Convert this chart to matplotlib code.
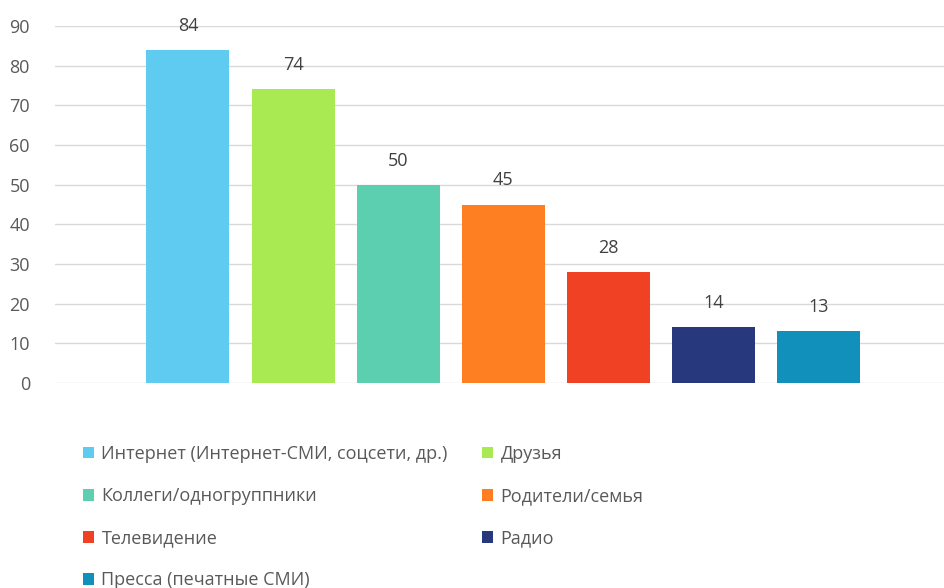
import matplotlib
matplotlib.use("Agg")
import matplotlib.pyplot as plt
from matplotlib.patches import Patch

plt.rcParams['font.family'] = ['Open Sans', 'DejaVu Sans']

categories = ["Интернет (Интернет-СМИ, соцсети, др.)", "Друзья",
              "Коллеги/одногруппники", "Родители/семья",
              "Телевидение", "Радио", "Пресса (печатные СМИ)"]
values = [84, 74, 50, 45, 28, 14, 13]
colors = ["#5fcbf1", "#a9e952", "#5ccfb0", "#fd7f22",
          "#f04124", "#27397c", "#1190bc"]
y_ticks = [0, 10, 20, 30, 40, 50, 60, 70, 80, 90]

fig = plt.figure(figsize=(9.44, 5.88), dpi=100)
ax = fig.add_axes([55 / 944, 1 - 383 / 588, 1 - 55 / 944, (383 - 26) / 588])

x = list(range(len(values)))
bars = ax.bar(x, values, width=0.79, color=colors, zorder=3)
for xi, v in zip(x, values):
    ax.text(xi, v + 3.8, str(v), ha='center', va='bottom', fontsize=13, color='#404040')

ax.set_xlim(-1.264, 7.19)
ax.set_ylim(0, 90)
ax.set_yticks(y_ticks)
ax.set_xticks([])
ax.grid(axis='y', color='#d9d9d9', linewidth=1, zorder=0)
for s in ax.spines.values():
    s.set_visible(False)
ax.tick_params(axis='y', length=0, labelsize=13, labelcolor='#595959', pad=18)

# legend row-wise order, two columns
order = [0, 2, 4, 6, 1, 3, 5]
handles = [Patch(facecolor=colors[i], edgecolor='none') for i in order]
labels = [categories[i] for i in order]
fig.legend(handles, labels, ncol=2, frameon=False, loc='upper left',
           bbox_to_anchor=(83 / 944, 1 - 445 / 588), borderpad=0, borderaxespad=0,
           handlelength=0.62, handleheight=0.62, handletextpad=0.4,
           columnspacing=1.9, labelspacing=1.33, fontsize=13, labelcolor='#595959')

fig.savefig("out.png", dpi=100)
